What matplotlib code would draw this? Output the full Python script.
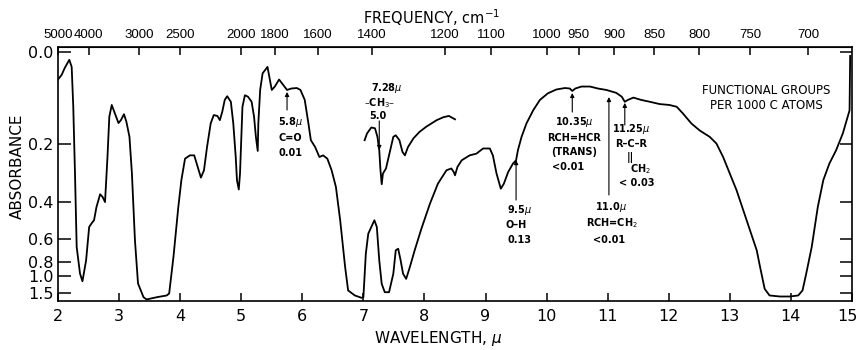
import numpy as np
import matplotlib
matplotlib.use('Agg')
import matplotlib.pyplot as plt
from matplotlib import font_manager
from matplotlib.transforms import ScaledTranslation

# main infrared trace, wavelength (micron) vs absorbance
main_wl = [2.00, 2.06, 2.11, 2.185, 2.224, 2.25, 2.278, 2.306, 2.36, 2.40,
           2.46, 2.51, 2.55, 2.59, 2.63, 2.69, 2.73, 2.77, 2.81, 2.84,
           2.88, 2.92, 2.99, 3.03, 3.08, 3.12, 3.17, 3.21, 3.26, 3.31,
           3.40, 3.45, 3.62, 3.78, 3.82, 3.89, 3.97, 4.02, 4.08, 4.16,
           4.23, 4.28, 4.34, 4.39, 4.44, 4.50, 4.55, 4.61, 4.65, 4.69,
           4.73, 4.77, 4.83, 4.87, 4.91, 4.93, 4.96, 4.98, 5.00, 5.02,
           5.06, 5.11, 5.17, 5.21, 5.24, 5.27, 5.28, 5.31, 5.35, 5.43,
           5.46, 5.50, 5.55, 5.62, 5.69, 5.75, 5.82, 5.91, 5.97, 6.04,
           6.10, 6.14, 6.21, 6.28, 6.34, 6.41, 6.48, 6.55, 6.62, 6.70,
           6.75, 6.86, 6.97, 7.00, 7.04, 7.08, 7.13, 7.18, 7.22, 7.26,
           7.30, 7.35, 7.42, 7.49, 7.53, 7.57, 7.61, 7.65, 7.70, 7.76,
           7.84, 7.95, 8.09, 8.22, 8.36, 8.44, 8.48, 8.50, 8.54, 8.61,
           8.74, 8.85, 8.96, 9.07, 9.12, 9.18, 9.25, 9.30, 9.37, 9.45,
           9.50, 9.53, 9.59, 9.67, 9.78, 9.89, 10.02, 10.16, 10.30, 10.38,
           10.42, 10.47, 10.57, 10.71, 10.84, 10.98, 11.09, 11.14, 11.23, 11.28,
           11.33, 11.42, 11.55, 11.69, 11.85, 12.01, 12.13, 12.23, 12.37, 12.51,
           12.67, 12.78, 12.89, 13.00, 13.11, 13.22, 13.33, 13.44, 13.49, 13.57,
           13.65, 13.82, 13.98, 14.12, 14.19, 14.25, 14.34, 14.44, 14.53, 14.63,
           14.74, 14.85, 14.93, 14.96, 14.97]
main_abs = [0.050, 0.041, 0.028, 0.013, 0.026, 0.107, 0.289, 0.664, 0.955, 1.10,
            0.787, 0.526, 0.505, 0.488, 0.422, 0.367, 0.378, 0.400, 0.237, 0.130,
            0.103, 0.118, 0.145, 0.138, 0.124, 0.142, 0.180, 0.289, 0.613, 1.15,
            1.81, 2.2, 1.81, 1.65, 1.52, 0.753, 0.422, 0.313, 0.242, 0.232,
            0.232, 0.263, 0.304, 0.279, 0.208, 0.146, 0.126, 0.128, 0.138, 0.118,
            0.092, 0.084, 0.096, 0.146, 0.237, 0.313, 0.348, 0.290, 0.189, 0.107,
            0.082, 0.085, 0.096, 0.130, 0.180, 0.219, 0.146, 0.071, 0.038, 0.026,
            0.045, 0.071, 0.064, 0.050, 0.061, 0.071, 0.068, 0.067, 0.071, 0.092,
            0.146, 0.189, 0.208, 0.237, 0.232, 0.242, 0.279, 0.338, 0.488, 0.857,
            1.37, 1.65, 1.89, 1.81, 0.72, 0.567, 0.526, 0.488, 0.526, 0.787,
            1.16, 1.45, 1.45, 0.96, 0.69, 0.677, 0.787, 0.96, 1.05, 0.866,
            0.69, 0.536, 0.407, 0.326, 0.279, 0.273, 0.285, 0.296, 0.268, 0.247,
            0.232, 0.227, 0.212, 0.212, 0.232, 0.290, 0.345, 0.326, 0.285, 0.257,
            0.247, 0.217, 0.180, 0.146, 0.115, 0.092, 0.078, 0.070, 0.067, 0.068,
            0.073, 0.068, 0.064, 0.064, 0.068, 0.071, 0.075, 0.077, 0.085, 0.096,
            0.092, 0.087, 0.092, 0.096, 0.101, 0.103, 0.107, 0.122, 0.146, 0.164,
            0.180, 0.198, 0.237, 0.290, 0.351, 0.438, 0.546, 0.69, 0.845, 1.31,
            1.65, 1.74, 1.74, 1.65, 1.37, 0.96, 0.664, 0.422, 0.313, 0.257,
            0.217, 0.171, 0.130, 0.115, 0.006]

# expanded 7.28 micron CH3 band
ch3_wl = [7.02, 7.06, 7.13, 7.19, 7.23, 7.26, 7.28, 7.30, 7.32, 7.37,
          7.42, 7.49, 7.53, 7.59, 7.64, 7.68, 7.73, 7.82, 7.92, 8.03,
          8.20, 8.31, 8.40, 8.50]
ch3_abs = [0.189, 0.171, 0.156, 0.158, 0.180, 0.217, 0.279, 0.328, 0.290, 0.273,
           0.232, 0.180, 0.176, 0.189, 0.222, 0.232, 0.208, 0.184, 0.167, 0.154,
           0.138, 0.131, 0.128, 0.136]

wl_ticks = list(range(2, 16))
freq_ticks = [5000, 4000, 3000, 2500, 2000, 1800, 1600, 1400, 1200, 1100,
              1000, 950, 900, 850, 800, 750, 700]
abs_ticks = [0.0, 0.2, 0.4, 0.6, 0.8, 1.0, 1.5]
abs_labels = ['0.0', '0.2', '0.4', '0.6', '0.8', '1.0', '1.5']


def fwd(a):
    return -np.power(10.0, -np.asarray(a, dtype=float))


def inv(t):
    t = np.clip(-np.asarray(t, dtype=float), 1e-12, None)
    return -np.log10(t)


def to_freq(x):
    x = np.asarray(x, dtype=float)
    with np.errstate(divide='ignore'):
        return 1e4 / np.where(x == 0, 1e-9, x)


names = {f.name for f in font_manager.fontManager.ttflist}
if 'Liberation Sans Narrow' in names:
    note_font = dict(family='Liberation Sans Narrow', fontweight='bold', fontsize=9)
else:
    note_font = dict(family='DejaVu Sans', fontweight='bold', fontsize=7)

fig = plt.figure(figsize=(8.58, 3.5), dpi=100)
ax = fig.add_axes([58 / 858, 1 - 301 / 350, 794 / 858, 254.3 / 350])

ax.plot(main_wl, main_abs, color='black', lw=1.3)
ax.plot(ch3_wl, ch3_abs, color='black', lw=1.3)

ax.set_yscale('function', functions=(fwd, inv))
ax.set_ylim(4, -0.0100)
ax.set_xlim(2, 15)

ax.set_yticks(abs_ticks)
ax.set_yticklabels(abs_labels)
ax.set_xticks(wl_ticks)
ax.minorticks_off()
ax.tick_params(axis='both', direction='in', labelsize=11.5, width=1.1)
ax.tick_params(axis='y', length=9, pad=3, right=True)
ax.tick_params(axis='x', length=6, pad=6)
for s in ax.spines.values():
    s.set_linewidth(1.2)

# last wavelength label sits on the right edge, pull it in a little
last = ax.get_xticklabels()[-1]
last.set_transform(last.get_transform() + ScaledTranslation(-5 / 100, 0, fig.dpi_scale_trans))

top = ax.secondary_xaxis('top', functions=(to_freq, to_freq))
top.set_xticks(freq_ticks)
top.set_xticklabels([str(f) for f in freq_ticks], family='Liberation Sans')
top.minorticks_off()
top.tick_params(direction='in', length=6, width=1.1, labelsize=9.5, pad=4)

fig.text(432 / 858, 1 - 18 / 350, 'FREQUENCY, cm$^{-1}$', ha='center', va='center', fontsize=10.5)
fig.text(438 / 858, 1 - 338 / 350, 'WAVELENGTH, $\\mu$', ha='center', va='center', fontsize=11)
fig.text(17 / 858, 1 - 166 / 350, 'ABSORBANCE', ha='center', va='center', rotation=90, fontsize=11)

tr = ax.get_xaxis_transform()
arrow = dict(arrowstyle='-|>', lw=0.8, color='black', mutation_scale=6, shrinkA=0, shrinkB=0)


def note(x_tip, y_tip, y_tail, lines):
    ax.annotate('', xy=(x_tip, y_tip), xytext=(x_tip, y_tail),
                xycoords=tr, textcoords=tr, arrowprops=arrow)
    for x, y, s in lines:
        ax.text(x, y, s, transform=tr, ha='center', va='center', **note_font)


note(5.75, 0.822, 0.751, [(5.80, 0.704, '5.8$\\mu$'), (5.80, 0.641, 'C=O'), (5.80, 0.582, '0.01')])
note(7.26, 0.594, 0.708, [(7.38, 0.836, '7.28$\\mu$'), (7.27, 0.779, '\u2013CH$_3$\u2013'), (7.24, 0.726, '5.0')])
note(9.50, 0.554, 0.397, [(9.55, 0.358, '9.5$\\mu$'), (9.50, 0.299, 'O\u2013H'), (9.55, 0.240, '0.13')])
note(10.42, 0.818, 0.743, [(10.45, 0.705, '10.35$\\mu$'), (10.45, 0.641, 'RCH=HCR'),
                           (10.45, 0.587, '(TRANS)'), (10.35, 0.528, '<0.01')])
note(11.02, 0.802, 0.417, [(11.05, 0.371, '11.0$\\mu$'), (11.07, 0.307, 'RCH=CH$_2$'), (11.02, 0.240, '<0.01')])
note(11.28, 0.779, 0.692, [(11.39, 0.676, '11.25$\\mu$'), (11.39, 0.617, 'R\u2013C\u2013R'),
                           (11.37, 0.566, '||'), (11.53, 0.519, 'CH$_2$'), (11.48, 0.464, '< 0.03')])

ax.text(13.59, 0.826, 'FUNCTIONAL GROUPS', transform=tr, ha='center', va='center', fontsize=8.5)
ax.text(13.59, 0.767, 'PER 1000 C ATOMS', transform=tr, ha='center', va='center', fontsize=8.5)

fig.savefig('out.png', dpi=100)
